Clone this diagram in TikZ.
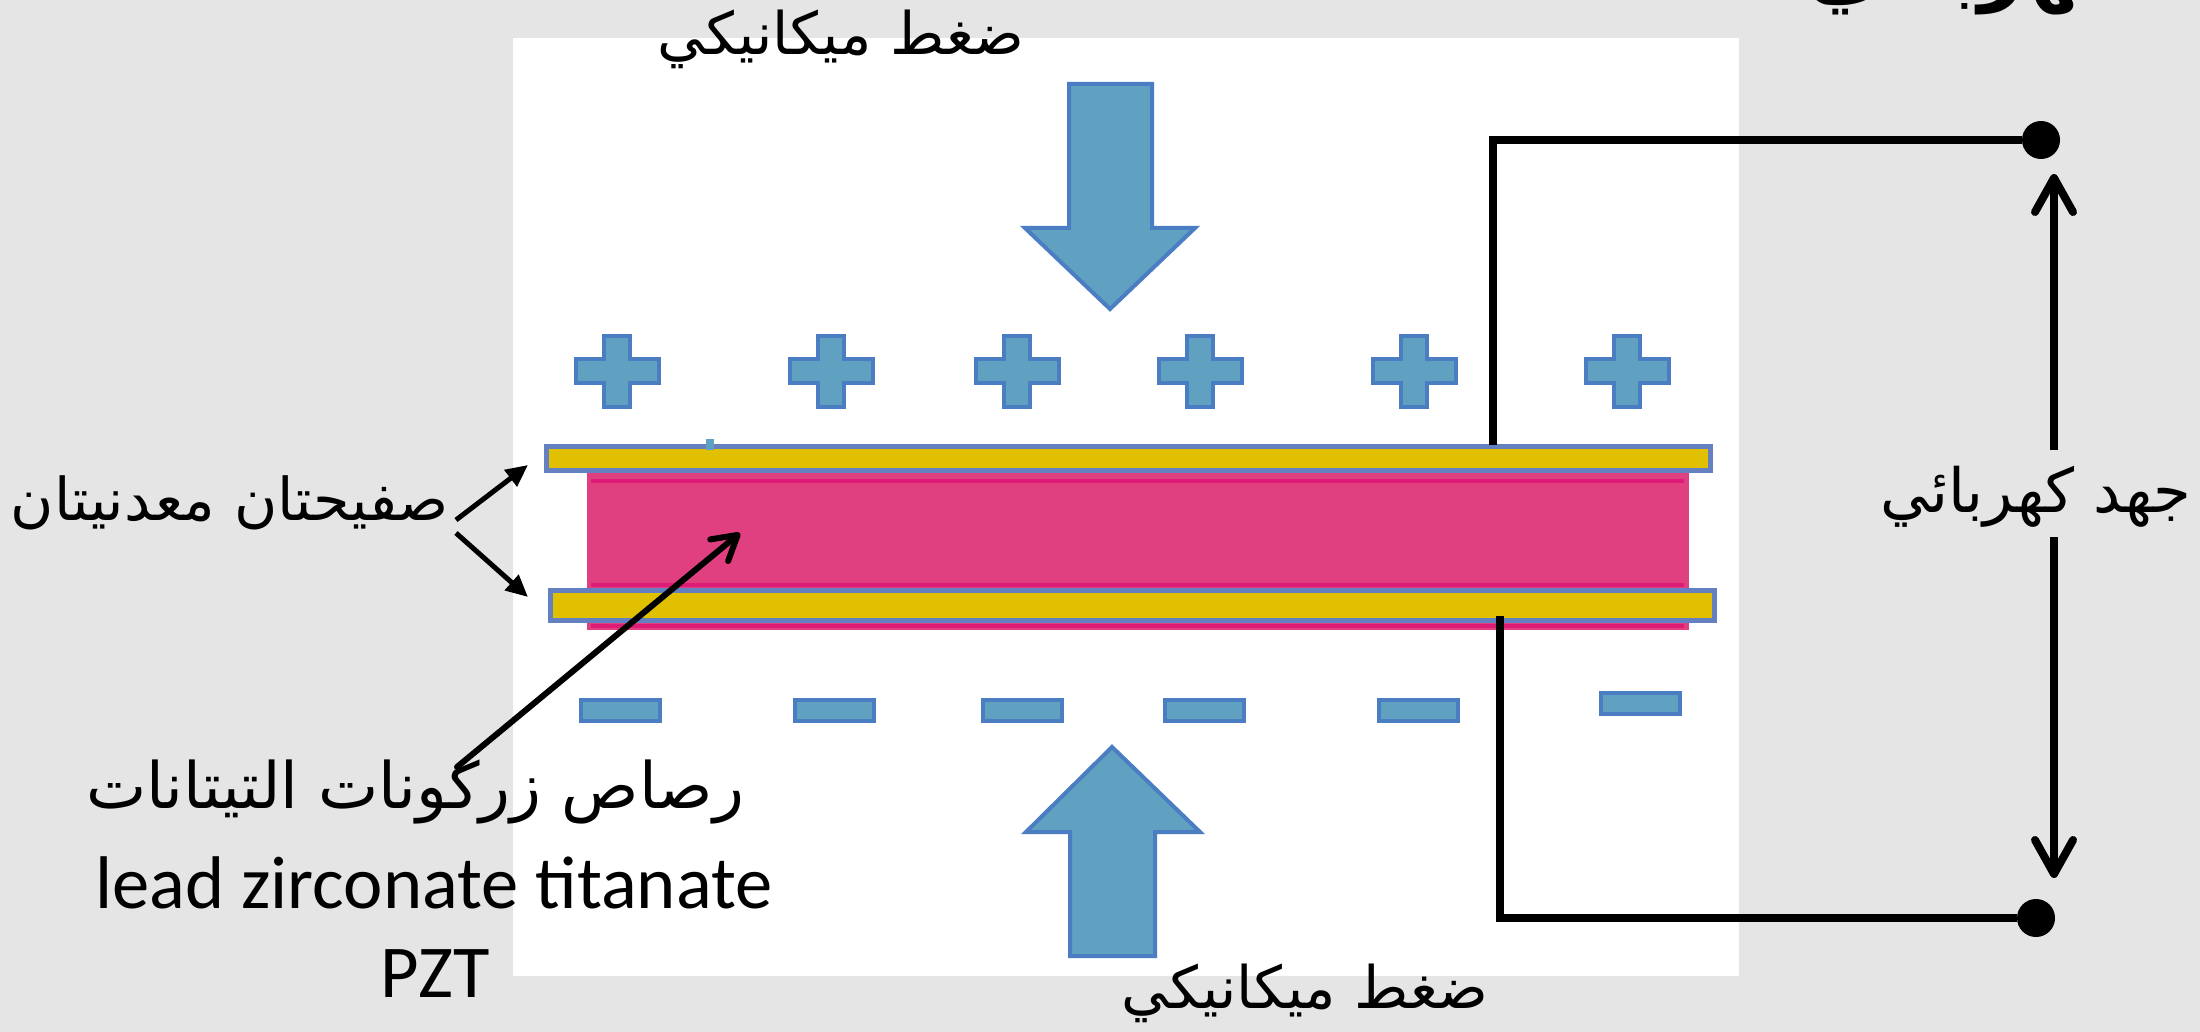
\documentclass[tikz,border=0pt]{standalone}
\usepackage{fontspec}
\setmainfont{Carlito}
\newfontfamily\arabicfont[Script=Arabic]{DejaVu Sans}
\TeXXeTstate=1
\usetikzlibrary{arrows.meta}
\definecolor{bggray}{RGB}{229,229,229}
\definecolor{markfill}{RGB}{96,160,192}
\definecolor{markedge}{RGB}{75,125,195}
\definecolor{platefill}{RGB}{224,192,0}
\definecolor{plateedge}{RGB}{100,128,192}
\definecolor{pztfill}{RGB}{224,64,128}
\definecolor{pztline}{RGB}{222,28,120}
\begin{document}
\begin{tikzpicture}[x=0.5pt,y=-0.5pt,
  wire/.style={line width=4pt},
  labarrow/.style={line width=2.5pt,-{Triangle[length=11pt,width=10pt]}},
  pztarrow/.style={line width=3pt,line cap=round,-{Straight Barb[length=12pt,width=14pt,line cap=round,line join=round]}},
  voltarrow/.style={line width=4pt,-{Straight Barb[length=17pt,width=19pt,line cap=round,line join=round]}},
  termdot/.style={circle,fill=black,inner sep=0pt,minimum size=19pt},
  arlabel/.style={inner sep=0pt,anchor=base,font=\arabicfont\fontsize{#1}{1.2\dimexpr#1\relax}\selectfont},
  titlelabel/.style={inner sep=0pt,anchor=base east,font=\arabicfont\bfseries\fontsize{40pt}{48pt}\selectfont},
  enlabel/.style={inner sep=0pt,anchor=base,font=\fontsize{37.3pt}{44pt}\selectfont},
  bigarrow/.style={fill=markfill,draw=markedge,line width=2pt,line join=miter},
  markstyle/.style={fill=markfill,draw=markedge,line width=2pt},
  plate/.style={draw=plateedge,fill=platefill,line width=2.5pt},
  plussign/.pic={\filldraw[markstyle] (-13,-35.5) -- (13,-35.5) -- (13,-12) -- (41.5,-12) -- (41.5,12) -- (13,12) -- (13,35.5) -- (-13,35.5) -- (-13,12) -- (-41.5,12) -- (-41.5,-12) -- (-13,-12) -- cycle;},
  minussign/.pic={\filldraw[markstyle] (-39.5,-10.5) rectangle (39.5,10.5);}
]
\fill[bggray] (0,0) rectangle (2200,1032);
\useasboundingbox (0,0) rectangle (2200,1032);
\fill[white] (513,38) rectangle (1739,976);

% PZT block
\fill[pztfill] (587,473) rectangle (1689,630);
\draw[pztline,line width=2pt] (591,481) -- (1684,481) (591,585) -- (1684,585) (591,626) -- (1684,626);
% metal plates
\draw[plate] (546.5,446.5) rectangle (1710.5,470.5);
\draw[plate] (550.5,590.5) rectangle (1714.5,620.5);
\fill[markfill] (706,439) rectangle (714,450);

% charges
\foreach \cx in {617,831,1017,1200,1414,1627} \pic at (\cx,371) {plussign};
\foreach \cx in {620,834,1022,1204,1418} \pic at (\cx,710) {minussign};
\pic at (1640,703) {minussign};

% pressure arrows
\filldraw[bigarrow] (1069,84) -- (1152,84) -- (1152,228) -- (1195,228) -- (1110,309) -- (1025,228) -- (1069,228) -- cycle;
\filldraw[bigarrow] (1070,956) -- (1155,956) -- (1155,832) -- (1200,832) -- (1112,747) -- (1026,832) -- (1070,832) -- cycle;

% circuit
\node[termdot] (dottop) at (2041,140) {};
\node[termdot] (dotbot) at (2036,918) {};
\coordinate (wa) at (1493,445);
\coordinate (wb) at (1500,616);
\draw[wire] (wa) |- (dottop);
\draw[wire] (wb) |- (dotbot);

% labels
\node[titlelabel] (title) at (2128,-4) {\beginR كهربائي\endR};
\node[arlabel=29.3pt] (topcap) at (841,55) {\beginR ضغط ميكانيكي\endR};
\node[arlabel=29.3pt] (botcap) at (1305,1008) {\beginR ضغط ميكانيكي\endR};
\node[arlabel=29.5pt] (plates) at (230,520) {\beginR صفيحتان معدنيتان\endR};
\node[arlabel=32pt] (pztar) at (415,808) {\beginR رصاص زركونات التيتانات\endR};
\node[enlabel] (pzten) at (434,908) {lead zirconate titanate};
\node[enlabel] (pztab) at (435,997) {PZT};
\node[arlabel=30.5pt] (volt) at (2036,512) {\beginR جهد كهربائي\endR};

% label connectors
\coordinate (plA) at (456,520);
\coordinate (plB) at (456,533);
\coordinate (tipA) at (528,465);
\coordinate (tipB) at (528,597);
\draw[labarrow] (plA) -- (tipA);
\draw[labarrow] (plB) -- (tipB);
\coordinate (pzfoot) at (457,767);
\coordinate (pztip) at (740,533);
\draw[pztarrow] (pzfoot) -- (pztip);
\coordinate (va) at (2054,450);
\coordinate (vb) at (2054,174);
\coordinate (vc) at (2054,537);
\coordinate (vd) at (2054,878);
\draw[voltarrow] (va) -- (vb);
\draw[voltarrow] (vc) -- (vd);
\end{tikzpicture}
\end{document}
